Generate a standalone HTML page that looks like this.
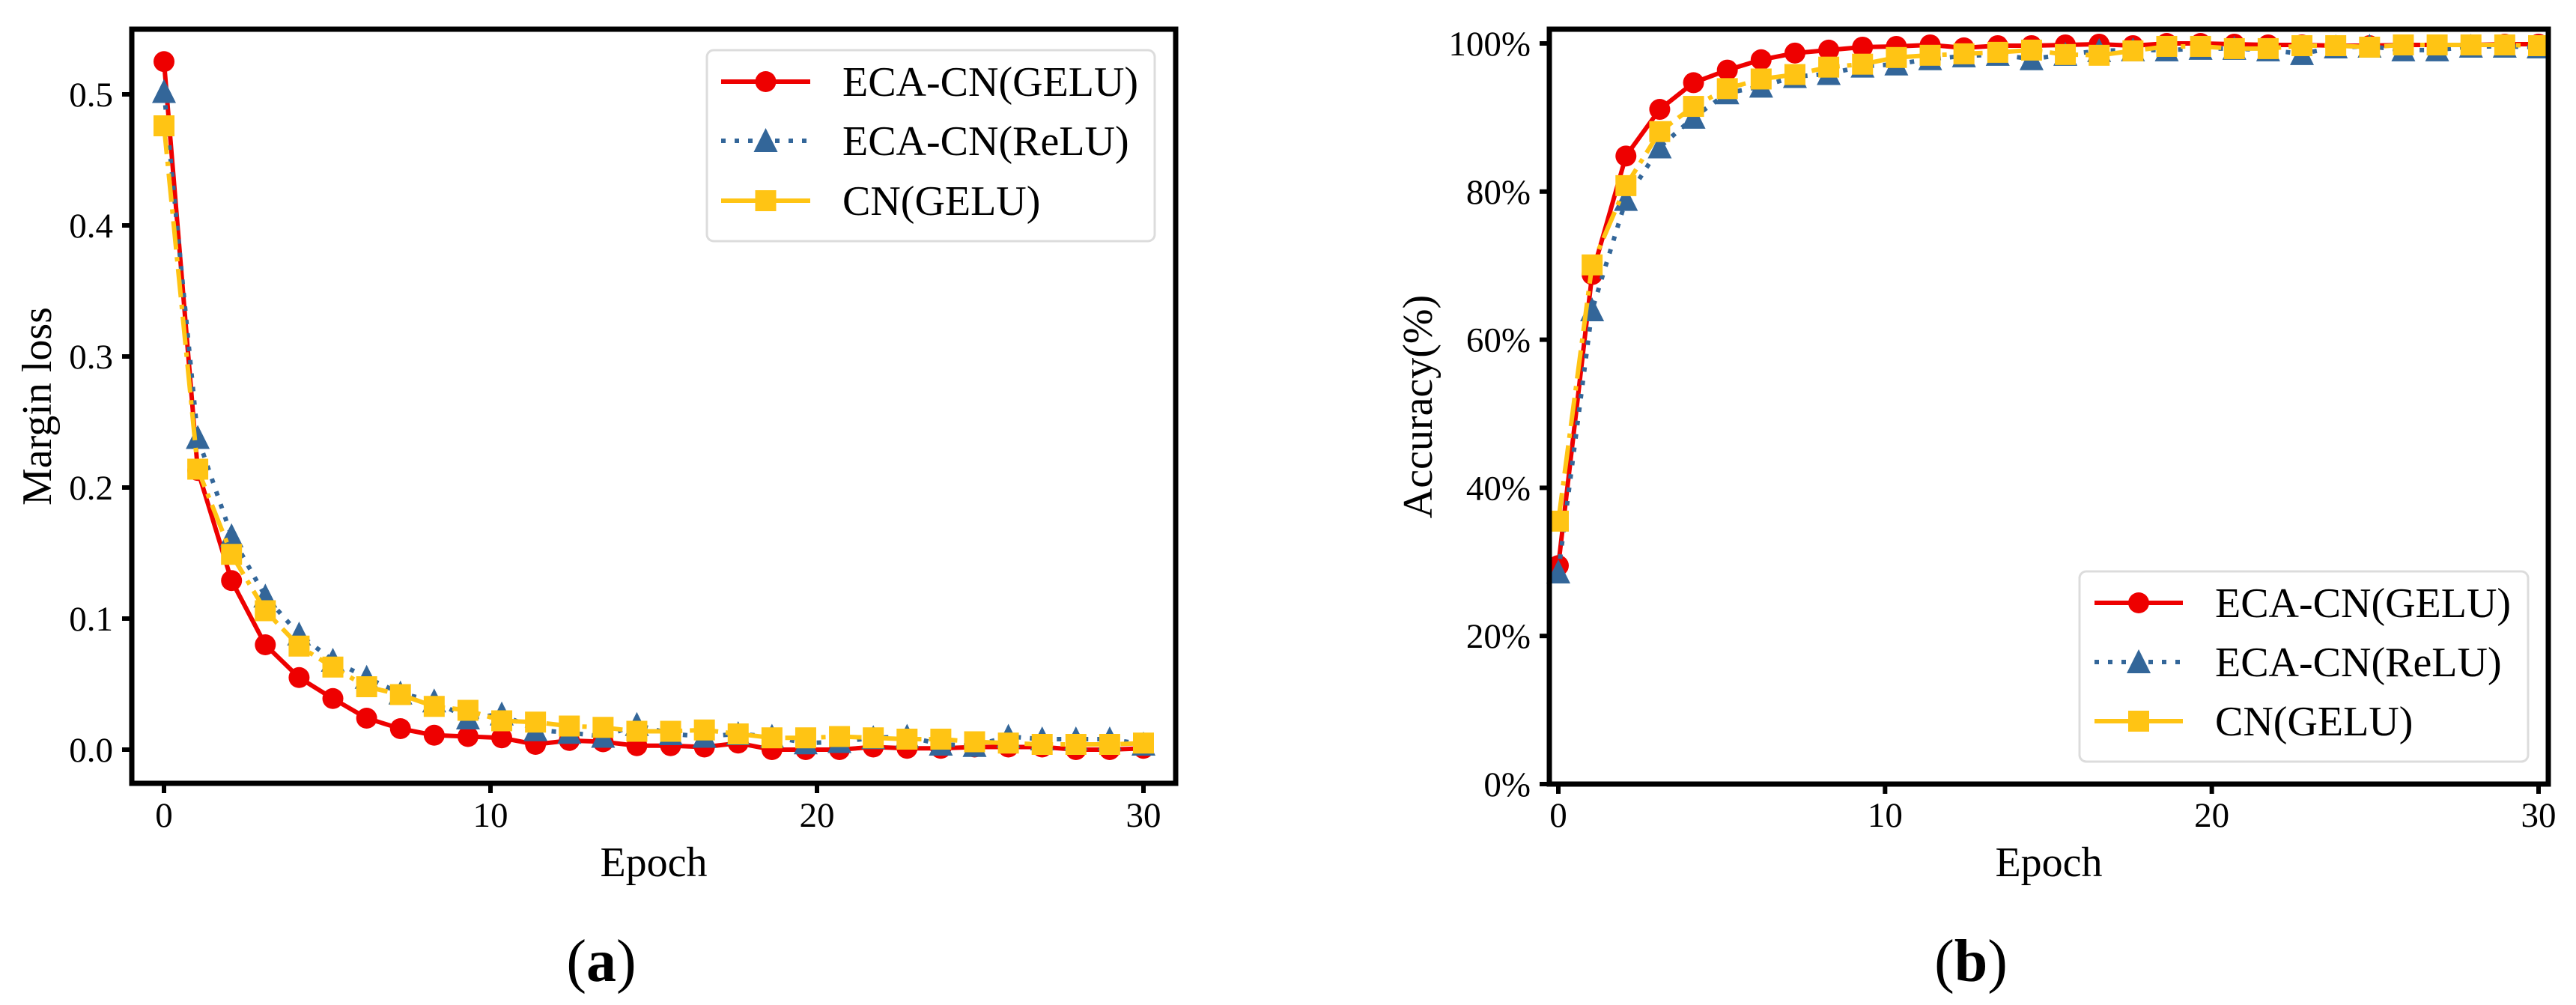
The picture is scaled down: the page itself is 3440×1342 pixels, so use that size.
<!DOCTYPE html>
<html><head><meta charset="utf-8"><style>
html,body{margin:0;padding:0;background:#fff;}
svg{display:block;}
text{font-family:"Liberation Serif","DejaVu Serif",serif;fill:#000;}
</style></head>
<body>
<svg id="fig" width="3440" height="1342" viewBox="0 0 3440 1342" xmlns="http://www.w3.org/2000/svg"></svg>
<script>
const epochs = Array.from({length:30},(_,i)=>i*30/29);
const lossGelu = [0.525,0.213,0.129,0.080,0.055,0.039,0.024,0.016,0.011,0.010,0.009,0.004,0.007,0.006,0.003,0.003,0.002,0.005,0.0,0.0,0.0,0.002,0.001,0.001,0.002,0.002,0.002,0.0,0.0,0.001];
const lossRelu = [0.502,0.238,0.163,0.117,0.088,0.068,0.055,0.043,0.037,0.024,0.027,0.015,0.013,0.010,0.019,0.012,0.010,0.012,0.010,0.005,0.006,0.009,0.010,0.004,0.003,0.010,0.008,0.008,0.008,0.004];
const lossCn = [0.476,0.214,0.149,0.106,0.079,0.063,0.048,0.042,0.033,0.030,0.022,0.021,0.018,0.017,0.014,0.014,0.015,0.012,0.009,0.009,0.010,0.009,0.008,0.008,0.006,0.005,0.004,0.004,0.004,0.005];
const accGelu = [29.5,68.8,84.8,91.1,94.7,96.4,97.8,98.7,99.1,99.5,99.6,99.8,99.4,99.7,99.7,99.8,99.9,99.7,100,100,99.9,99.8,99.8,99.7,99.7,99.8,99.8,99.8,99.9,99.9];
const accRelu = [28.6,64.0,78.9,86.0,90.0,93.3,94.2,95.5,95.9,96.9,97.2,97.9,98.3,98.5,97.9,98.5,99.0,99.1,99.1,99.3,99.3,99.1,98.6,99.5,99.6,99.1,99.1,99.6,99.6,99.5];
const accCn = [35.5,70.1,80.8,88.1,91.5,93.9,95.2,95.8,96.8,97.2,98.1,98.4,98.6,98.8,99.1,98.5,98.4,99.0,99.6,99.6,99.3,99.3,99.7,99.7,99.5,99.8,99.8,99.8,99.8,99.7];
const xTicks = [0,10,20,30];
const lossTicks = [0.0,0.1,0.2,0.3,0.4,0.5];
const lossTickLabels = ["0.0","0.1","0.2","0.3","0.4","0.5"];
const accTicks = [0,20,40,60,80,100];
const accTickLabels = ["0%","20%","40%","60%","80%","100%"];
const seriesNames = ["ECA-CN(GELU)","ECA-CN(ReLU)","CN(GELU)"];

const NS="http://www.w3.org/2000/svg";
const svg=document.getElementById('fig');
function mk(tag,attrs,parent){const e=document.createElementNS(NS,tag);for(const k in attrs)e.setAttribute(k,attrs[k]);(parent||svg).appendChild(e);return e;}
const COLORS=["#ee0000","#336699","#ffc414"];
const DASH=["none","6 12","38 10 6 10"];

function marker(g,type,cx,cy,color){
  let e;
  if(type===0){e=mk('circle',{cx:cx,cy:cy,r:14,fill:color},g);}
  else if(type===1){e=mk('polygon',{points:`${cx},${cy-17} ${cx-16},${cy+15} ${cx+16},${cy+15}`,fill:color},g);}
  else {e=mk('rect',{x:cx-14,y:cy-14,width:28,height:28,fill:color},g);}
  
  
}

function panel(cfg){
  const {L,R,T,B,x0px,x1px,ymin,ymax,y0px,y1px,series,yticks,ylabels,ytitle,ytitleX,legend,pname,caption,capX,capLetter}=cfg;
  const g=mk('g',{});
  
  
  const sx=v=>x0px+(v-0)*(x1px-x0px)/30;
  const sy=v=>y0px+(v-ymin)*(y1px-y0px)/(ymax-ymin);
  series.forEach((vals,si)=>{
    const sg=mk('g',{},g);
    
    
    const pts=vals.map((v,i)=>sx(epochs[i]).toFixed(1)+','+sy(v).toFixed(1)).join(' ');
    const pl=mk('polyline',{points:pts,fill:'none',stroke:COLORS[si],'stroke-width':6,'stroke-dasharray':DASH[si],'stroke-linejoin':'round'},sg);
    
    
    vals.forEach((v,i)=>marker(sg,si,sx(epochs[i]),sy(v),COLORS[si]));
  });
  const fr=mk('rect',{x:L,y:T,width:R-L,height:B-T,fill:'none',stroke:'#000','stroke-width':7},g);
  
  
  xTicks.forEach(t=>{
    const x=sx(t);
    const tk=mk('line',{x1:x,y1:B+3,x2:x,y2:B+13,stroke:'#000','stroke-width':6},g);
    
    
    const tl=mk('text',{x:x,y:1104,'font-size':47,'text-anchor':'middle'},g);
    tl.textContent=String(t);
    
    
  });
  yticks.forEach((t,i)=>{
    const y=sy(t);
    const tk=mk('line',{x1:L-13,y1:y,x2:L-3,y2:y,stroke:'#000','stroke-width':6},g);
    
    
    const tl=mk('text',{x:L-25,y:y+16,'font-size':47,'text-anchor':'end'},g);
    tl.textContent=ylabels[i];
    
    
  });
  const xt=mk('text',{x:(L+R)/2,y:1170,'font-size':56,'text-anchor':'middle'},g);
  xt.textContent='Epoch';
  
  
  const cy=(T+B)/2;
  const yt=mk('text',{x:ytitleX,y:cy,'font-size':56,'text-anchor':'middle',transform:`rotate(-90 ${ytitleX} ${cy})`},g);
  yt.textContent=ytitle;
  
  
  const lg=mk('g',{},g);
  
  
  const lb=mk('rect',{x:legend.x,y:legend.y,width:legend.w,height:legend.h,rx:9,fill:'#fff','fill-opacity':0.85,stroke:'#dcdcdc','stroke-width':3},lg);
  
  
  seriesNames.forEach((nm,si)=>{
    const ry=legend.rows[si];
    const eg=mk('g',{},lg);
    
    
    const ln=mk('line',{x1:legend.hx0,y1:ry,x2:legend.hx1,y2:ry,stroke:COLORS[si],'stroke-width':6,'stroke-dasharray':si===1?'6 12':'none'},eg);
    
    
    marker(eg,si,(legend.hx0+legend.hx1)/2,ry,COLORS[si]);
    const tx=mk('text',{x:legend.tx,y:ry+19,'font-size':56},eg);
    tx.textContent=nm;
    
    
  });
  const cp=mk('text',{x:capX,y:1310,'font-size':80,'text-anchor':'middle'},svg);
  
  
  const t1=mk('tspan',{},cp);t1.textContent='(';
  const t2=mk('tspan',{'font-weight':'bold'},cp);t2.textContent=capLetter;
  const t3=mk('tspan',{},cp);t3.textContent=')';
}

panel({pname:'loss-chart',L:176,R:1570,T:39,B:1046,x0px:219,x1px:1527,ymin:0,ymax:0.5,y0px:1001,y1px:126,
  series:[lossGelu,lossRelu,lossCn],yticks:lossTicks,ylabels:lossTickLabels,ytitle:'Margin loss',ytitleX:68,
  legend:{x:944,y:67,w:598,h:255,rows:[109,188,268],hx0:963,hx1:1082,tx:1125},caption:'caption-a',capX:803,capLetter:'a'});
panel({pname:'accuracy-chart',L:2069,R:3403,T:39,B:1047,x0px:2081,x1px:3390,ymin:0,ymax:100,y0px:1047,y1px:58,
  series:[accGelu,accRelu,accCn],yticks:accTicks,ylabels:accTickLabels,ytitle:'Accuracy(%)',ytitleX:1912,
  legend:{x:2777,y:763,w:599,h:254,rows:[805,884,963],hx0:2797,hx1:2915,tx:2958},caption:'caption-b',capX:2632,capLetter:'b'});
</script>
</body></html>
